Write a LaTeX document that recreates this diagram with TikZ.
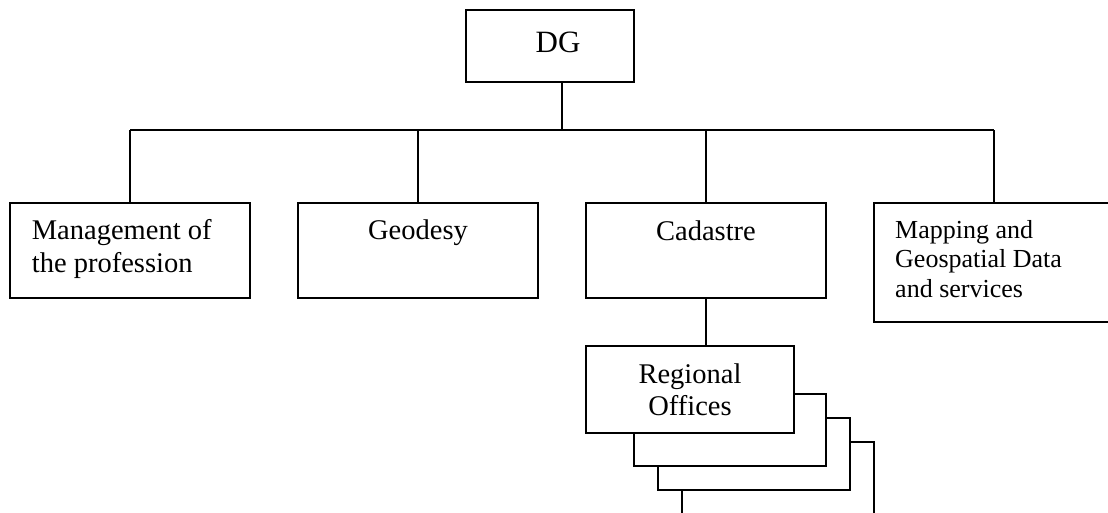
\documentclass[tikz,border=0pt]{standalone}
\usepackage{fontspec}
\setmainfont{Liberation Serif}
\begin{document}
\begin{tikzpicture}[x=1pt,y=-1pt,
  box/.style={draw=black,line width=1.5pt,fill=white,inner sep=0pt,rectangle},
  link/.style={draw=black,line width=1.5pt},
  txt/.style={inner sep=0pt,font=\fontsize{28.5}{33}\selectfont},
  smalltxt/.style={inner sep=0pt,font=\fontsize{26}{29.5}\selectfont}]
\useasboundingbox (0,0) rectangle (1108,512);
% boxes
\node[box,minimum width=168pt,minimum height=72pt] (dg) at (550,46) {};
\node[box,minimum width=240pt,minimum height=95pt] (mgmt) at (130,250.5) {};
\node[box,minimum width=240pt,minimum height=95pt] (geo) at (418,250.5) {};
\node[box,minimum width=240pt,minimum height=95pt] (cad) at (706,250.5) {};
\node[box,minimum width=240pt,minimum height=119pt] (map) at (994,262.5) {};
\node[box,minimum width=192pt,minimum height=72pt] (reg4) at (778,478) {};
\node[box,minimum width=192pt,minimum height=72pt] (reg3) at (754,454) {};
\node[box,minimum width=192pt,minimum height=72pt] (reg2) at (730,430) {};
\node[box,minimum width=208pt,minimum height=87pt] (reg) at (690,389.5) {};
% connectors
\coordinate (busL) at (130,130);
\coordinate (busR) at (994,130);
\coordinate (busT) at (562,130);
\draw[link] (busL) -- (busR);
\draw[link] (busT) -- (busT |- dg.south);
\draw[link] (mgmt.north) -- (mgmt.north |- busL);
\draw[link] (geo.north) -- (geo.north |- busL);
\draw[link] (cad.north) -- (cad.north |- busL);
\draw[link] (map.north) -- (map.north |- busL);
\draw[link] (cad.south) -- (cad.south |- reg.north);
% texts
\node[inner sep=0pt,anchor=base,font=\fontsize{31}{36}\selectfont] (dgt) at (558,52) {DG};
\node[txt,anchor=base west,align=left] (mgmtt) at (31.7,272) {Management of\\the profession};
\node[txt,anchor=base] (geot) at (418,239) {Geodesy};
\node[txt,anchor=base] (cadt) at (706,240) {Cadastre};
\node[smalltxt,anchor=base west,align=left] (mapt) at (895,297) {Mapping and\\Geospatial Data\\and services};
\node[txt,anchor=base,align=center,font=\fontsize{28.5}{32}\selectfont] (regt) at (690,415) {Regional\\Offices};
\end{tikzpicture}
\end{document}
